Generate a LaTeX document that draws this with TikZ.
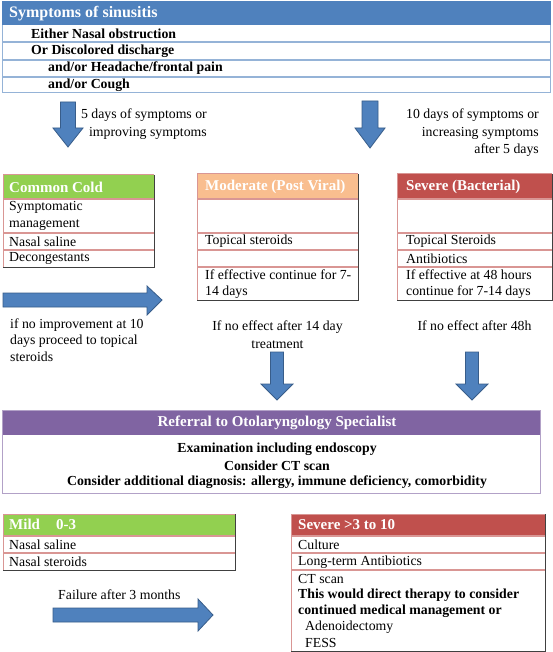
\documentclass[tikz,border=0pt]{standalone}
\usepackage{fontspec}
\setmainfont{Liberation Serif}
\definecolor{blueH}{HTML}{4F81BD}
\definecolor{blueRow}{HTML}{95B3D7}
\definecolor{greenH}{HTML}{92D050}
\definecolor{orangeH}{HTML}{F9BE8F}
\definecolor{redH}{HTML}{C0504D}
\definecolor{purpleH}{HTML}{8064A2}
\definecolor{purpleRow}{HTML}{B2A1C7}
\definecolor{pinkRow}{HTML}{D99694}
\definecolor{darkEdge}{HTML}{404040}
\definecolor{arrowFill}{HTML}{4F81BD}
\definecolor{arrowEdge}{HTML}{385D8A}
\newcommand{\mybox}[8]{%
  \fill[white] (#1,#2) rectangle (#3,#4);
  \fill[#6] (#1,#2) rectangle (#3,#5);
  \draw[#7,line width=1pt] (#1,#4) -- (#1,#2) -- (#3,#2);
  \draw[#8,line width=1pt] (#3,#2) -- (#3,#4) -- (#1,#4);
}
\tikzset{
  hdr/.style={font=\fontsize{15}{18}\selectfont\bfseries, text=white, anchor=west, inner sep=0pt},
  ttl/.style={font=\fontsize{16}{19}\selectfont\bfseries, text=white, anchor=west, inner sep=0pt},
  txt/.style={font=\fontsize{13.8}{16.5}\selectfont, anchor=west, inner sep=0pt},
  btxt/.style={font=\fontsize{13.8}{16.5}\selectfont\bfseries, anchor=west, inner sep=0pt},
  note/.style={font=\fontsize{13.8}{17.5}\selectfont, inner sep=0pt},
  blockarrow/.style={fill=arrowFill, draw=arrowEdge, line width=0.8pt},
  rowline/.style={line width=1.6pt},
}
\begin{document}
\begin{tikzpicture}[x=1pt,y=-1pt]
\useasboundingbox (0,0) rectangle (553,652);
\fill[white] (0,0) rectangle (553,652);

% ---- top box
\mybox{2}{2}{550}{93}{25}{blueH}{blueRow}{blueRow}
\foreach \r in {42,60,77} \draw[blueRow,rowline] (2,\r) -- (550,\r);
\draw[blueH,line width=1pt] (2,2) rectangle (550,25);
\node[ttl] (t0) at (9,13.5) {Symptoms of sinusitis};
\node[btxt] (t1) at (31,33.5) {Either Nasal obstruction};
\node[btxt] (t2) at (31,51) {Or Discolored discharge};
\node[btxt] (t3) at (48,68.5) {and/or Headache/frontal pain};
\node[btxt] (t4) at (48,85.5) {and/or Cough};

% ---- first arrows
\draw[blockarrow] (60.5,102) -- (75.5,102) -- (75.5,128) -- (83,128) -- (68,147) -- (53,128) -- (60.5,128) -- cycle;
\draw[blockarrow] (362,101) -- (378,101) -- (378,128) -- (385,128) -- (370,148) -- (355,128) -- (362,128) -- cycle;
\node[note, align=right, anchor=east] (n5) at (207,124) {5 days of symptoms or\\improving symptoms};
\node[note, align=right, anchor=east] (n10) at (539,133) {10 days of symptoms or\\increasing symptoms\\after 5 days};

% ---- common cold
\mybox{3}{175}{154}{267}{199}{greenH}{pinkRow}{darkEdge}
\foreach \r in {199,233,250} \draw[pinkRow,rowline] (3,\r) -- (154,\r);
\node[hdr] (cc) at (9,187) {Common Cold};
\node[txt, align=left] (cc1) at (9,216) {Symptomatic\\management};
\node[txt] (cc2) at (9,241.5) {Nasal saline};
\node[txt] (cc3) at (9,258.5) {Decongestants};

% ---- moderate
\mybox{197}{174}{358}{300}{199}{orangeH}{pinkRow}{darkEdge}
\foreach \r in {199,233,250,267} \draw[pinkRow,rowline] (197,\r) -- (358,\r);
\node[hdr] (mo) at (205,187) {Moderate (Post Viral)};
\node[txt] (mo1) at (205,241.5) {Topical steroids};
\node[txt, align=left] (mo2) at (205,284) {If effective continue for 7-\\14 days};

% ---- severe
\mybox{397}{174}{552}{300}{199}{redH}{pinkRow}{darkEdge}
\foreach \r in {199,233,250,267} \draw[pinkRow,rowline] (397,\r) -- (552,\r);
\node[hdr] (se) at (406,187) {Severe (Bacterial)};
\node[txt] (se1) at (406,241.5) {Topical Steroids};
\node[txt] (se2) at (406,258.5) {Antibiotics};
\node[txt, align=left] (se3) at (406,284) {If effective at 48 hours\\continue for 7-14 days};

% ---- right arrow & notes
\draw[blockarrow] (3,293) -- (147,293) -- (147,286) -- (162,300) -- (147,315) -- (147,307) -- (3,307) -- cycle;
\node[note, align=left, anchor=west, font=\fontsize{13.8}{16.5}\selectfont] (n1) at (10,340) {if no improvement at 10\\days proceed to topical\\steroids};
\node[note, align=center] (n2) at (277.5,334.5) {If no effect after 14 day\\treatment};
\node[note] (n3) at (474.5,326) {If no effect after 48h};

\draw[blockarrow] (270.5,352) -- (283.5,352) -- (283.5,384) -- (293,384) -- (277,400) -- (261,384) -- (270.5,384) -- cycle;
\draw[blockarrow] (465.5,352) -- (478.5,352) -- (478.5,384) -- (488,384) -- (472,400) -- (456,384) -- (465.5,384) -- cycle;

% ---- referral
\mybox{2}{410}{540}{493}{435}{purpleH}{purpleRow}{purpleRow}
\node[hdr, anchor=center] (rf) at (277,422.5) {Referral to Otolaryngology Specialist};
\node[btxt, anchor=center] (rf1) at (277,449) {Examination including endoscopy};
\node[btxt, anchor=center] (rf2) at (277,465.5) {Consider CT scan};
\node[btxt, anchor=center] (rf3) at (277,482) {Consider additional diagnosis: allergy, immune deficiency, comorbidity};

% ---- mild
\mybox{3}{514}{235}{570}{536}{greenH}{pinkRow}{darkEdge}
\foreach \r in {536,553} \draw[pinkRow,rowline] (3,\r) -- (235,\r);
\node[hdr] (mi) at (9,524.5) {Mild\hspace{16pt}0-3};
\node[txt] (mi1) at (9,544.5) {Nasal saline};
\node[txt] (mi2) at (9,562) {Nasal steroids};

\node[txt] (fa) at (58,595) {Failure after 3 months};
\draw[blockarrow] (53,608) -- (198,608) -- (198,599) -- (213,615) -- (198,631) -- (198,622) -- (53,622) -- cycle;

% ---- severe 2
\mybox{291}{514}{545}{651}{536}{redH}{pinkRow}{darkEdge}
\foreach \r in {536,553,570} \draw[pinkRow,rowline] (291,\r) -- (545,\r);
\node[hdr] (s2) at (298,524.5) {Severe >3 to 10};
\node[txt] (s21) at (298,544.5) {Culture};
\node[txt] (s22) at (298,562) {Long-term Antibiotics};
\node[txt] (s23) at (298,579) {CT scan};
\node[btxt] (s24) at (298,595.5) {This would direct therapy to consider};
\node[btxt] (s25) at (298,611.5) {continued medical management or};
\node[txt] (s26) at (305,627.5) {Adenoidectomy};
\node[txt] (s27) at (305,643) {FESS};
\end{tikzpicture}
\end{document}
